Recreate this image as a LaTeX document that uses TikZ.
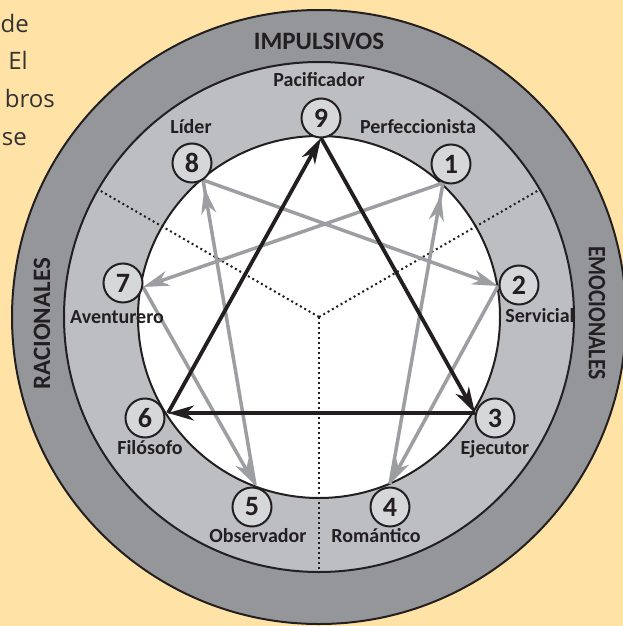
\documentclass[tikz,border=0pt]{standalone}
\usepackage{fontspec}
\setmainfont{Carlito}
\newfontfamily\bodyfont{Open Sans}
\usetikzlibrary{arrows.meta,decorations.markings}
\definecolor{bgpeach}{HTML}{FFE3A6}
\definecolor{darkring}{HTML}{95969A}
\definecolor{lightring}{HTML}{BDBEC2}
\definecolor{nodefill}{HTML}{D6D7D9}
\definecolor{arrowgray}{HTML}{9D9EA2}
\definecolor{txt}{HTML}{231F20}
\definecolor{bodygray}{HTML}{333333}
\begin{document}
\begin{tikzpicture}[x=1pt,y=-1pt,
  ringline/.style={draw=txt, line width=2pt},
  dotline/.style={draw=txt, line width=2pt, dash pattern=on 2pt off 3pt},
  num/.style={circle, draw=txt, line width=2pt, fill=nodefill, minimum size=39pt,
    inner sep=0pt, font=\fontsize{28}{30}\selectfont\bfseries, text=txt},
  lbl/.style={font=\fontsize{20}{24}\selectfont\bfseries, text=txt, inner sep=0pt},
  ringlbl/.style={font=\fontsize{25}{30}\selectfont\bfseries, text=txt, inner sep=0pt},
  bodytxt/.style={font=\bodyfont\fontsize{24}{30}\selectfont, text=bodygray, inner sep=0pt},
  grayarrow/.style={draw=arrowgray, line width=3.5pt,
    -{Stealth[length=26pt,width=15pt,inset=8pt]}},
  grayoff/.style={draw=arrowgray, line width=3.5pt, postaction={decorate},
    decoration={markings, mark=at position #1 with
      {\arrow{Stealth[length=26pt,width=15pt,inset=8pt,color=arrowgray]}}}},
  blackarrow/.style={draw=txt, line width=3.8pt,
    -{Stealth[length=26pt,width=15pt,inset=8pt]}}
]
\fill[bgpeach] (0,0) rectangle (623,626);
\useasboundingbox (0,0) rectangle (623,626);
\clip (0,0) rectangle (623,626);

% cut-off paragraph text
\node[bodytxt, anchor=base east] (t1) at (29,33) {de};
\node[bodytxt, anchor=base east] (t2) at (28,70) {El};
\node[bodytxt, anchor=base east] (t3) at (55,107) {bros};
\node[bodytxt, anchor=base east] (t4) at (27,145) {se};

% rings
\coordinate (c) at (319,317);
\draw[ringline, fill=darkring] (c) circle[radius=307pt];
\draw[ringline, fill=lightring] (c) circle[radius=255pt];
\draw[ringline, fill=white] (c) circle[radius=181pt];

% dotted separators
\coordinate (d1) at (539,190);
\coordinate (d2) at (99,190);
\coordinate (d3) at (319,571);
\draw[dotline] (c) -- (d1);
\draw[dotline] (c) -- (d2);
\draw[dotline] (c) -- (d3);

% touch points on the inner circle
\coordinate (p9) at (321,138);
\coordinate (p1) at (443,183);
\coordinate (p2) at (498,286);
\coordinate (p3) at (475,413);
\coordinate (p4) at (390,484);
\coordinate (p5) at (255,485);
\coordinate (p6) at (168,413);
\coordinate (p7) at (143,287);
\coordinate (p8) at (203,180);

% gray hexad
\draw[grayarrow] (p1) -- (p7);
\draw[grayarrow] (p7) -- (p5);
\draw[grayoff=-8pt] (p5) -- (p8);
\draw[grayarrow] (p8) -- (p2);
\draw[grayarrow] (p2) -- (p4);
\draw[grayoff=-12pt] (p4) -- (p1);

% black triangle
\draw[blackarrow] (p9) -- (p3);
\draw[blackarrow] (p3) -- (p6);
\draw[blackarrow] (p6) -- (p9);

% number nodes
\node[num] (n9) at (321,118) {9};
\node[num] (n1) at (451,164) {1};
\node[num] (n2) at (519,285) {2};
\node[num] (n3) at (495,418) {3};
\node[num] (n4) at (390,507) {4};
\node[num] (n5) at (252,507) {5};
\node[num] (n6) at (145,418) {6};
\node[num] (n7) at (123,283) {7};
\node[num] (n8) at (192,163) {8};

% type labels
\node[lbl, anchor=base] (l9) at (319,86) {Pacificador};
\node[lbl, anchor=base] (l1) at (418,133) {Perfeccionista};
\node[lbl, anchor=base] (l2) at (540,322) {Servicial};
\node[lbl, anchor=base] (l3) at (495,454) {Ejecutor};
\node[lbl, anchor=base] (l4) at (376,542) {Romántico};
\node[lbl, anchor=base] (l5) at (258,542) {Observador};
\node[lbl, anchor=base] (l6) at (150,454) {Filósofo};
\node[lbl, anchor=base] (l7) at (117,323) {Aventurero};
\node[lbl, anchor=base] (l8) at (191,133) {Líder};

% ring labels
\node[ringlbl, anchor=base] (r1) at (319,50) {IMPULSIVOS};
\node[ringlbl, rotate=90] (r2) at (42,324) {RACIONALES};
\node[ringlbl, rotate=-90] (r3) at (597,313) {\scalebox{0.87}[1]{EMOCIONALES}};
\end{tikzpicture}
\end{document}
